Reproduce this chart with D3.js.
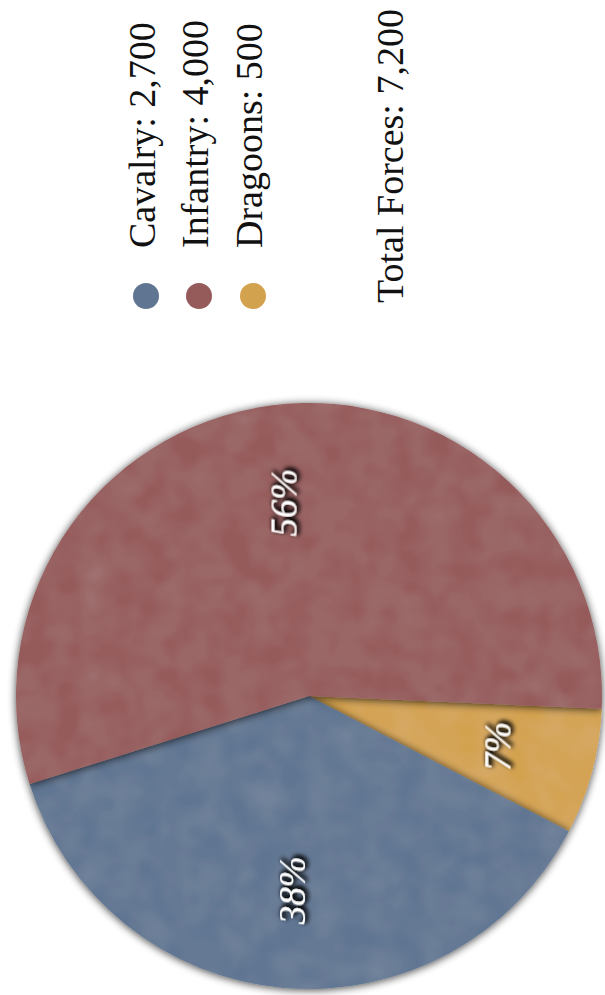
<!DOCTYPE html>
<html>
<head>
<meta charset="utf-8">
<script src="https://cdn.jsdelivr.net/npm/d3@7"></script>
<style>
  html, body { margin: 0; padding: 0; background: #fff; }
  svg { display: block; }
</style>
</head>
<body>
<svg id="chart" width="605" height="995"></svg>
<script>
// Army composition
const categories = ["Cavalry", "Infantry", "Dragoons"];
const values = [2700, 4000, 500];
const colors = ["#5f7591", "#955a5a", "#d3a24f"];
const totalLabel = "Total Forces";
// Order in which the wedges are laid out clockwise (and painted)
const drawOrder = ["Dragoons", "Cavalry", "Infantry"];

const W = 605, H = 995;
const svg = d3.select("#chart");
const fmtNum = d3.format(",");
const fmtPct = d3.format(".0%");
const total = d3.sum(values);
const serif = "'Liberation Serif', 'DejaVu Serif', serif";

const data = categories.map((c, i) => ({ name: c, value: values[i], color: colors[i] }));
const byName = new Map(data.map(d => [d.name, d]));

const defs = svg.append("defs");

// soft shadow for the wedges, plus a faint mottled grain
const shadow = defs.append("filter").attr("id", "wedgeShadow")
  .attr("x", "-20%").attr("y", "-20%").attr("width", "140%").attr("height", "140%");
shadow.append("feTurbulence").attr("type", "fractalNoise").attr("baseFrequency", 0.035)
  .attr("numOctaves", 2).attr("seed", 3).attr("result", "noise");
shadow.append("feColorMatrix").attr("in", "noise").attr("type", "matrix")
  .attr("values", "0 0 0 0 1  0 0 0 0 1  0 0 0 0 1  0.05 0.05 0.05 0 -0.05").attr("result", "grain");
shadow.append("feComposite").attr("in", "grain").attr("in2", "SourceGraphic").attr("operator", "in").attr("result", "grainIn");
shadow.append("feGaussianBlur").attr("in", "SourceAlpha").attr("stdDeviation", 4).attr("result", "b");
shadow.append("feOffset").attr("in", "b").attr("dx", 0).attr("dy", 1).attr("result", "o");
shadow.append("feComponentTransfer").attr("in", "o").attr("result", "s")
  .append("feFuncA").attr("type", "linear").attr("slope", 0.75);
const sm = shadow.append("feMerge");
sm.append("feMergeNode").attr("in", "s");
sm.append("feMergeNode").attr("in", "SourceGraphic");
sm.append("feMergeNode").attr("in", "grainIn");

// dark glow behind the percentage labels
const tshadow = defs.append("filter").attr("id", "textShadow")
  .attr("x", "-50%").attr("y", "-50%").attr("width", "200%").attr("height", "200%");
tshadow.append("feGaussianBlur").attr("in", "SourceAlpha").attr("stdDeviation", 2.5).attr("result", "b");
tshadow.append("feOffset").attr("in", "b").attr("dx", 2).attr("dy", 1.5).attr("result", "o");
tshadow.append("feComponentTransfer").attr("in", "o").attr("result", "s")
  .append("feFuncA").attr("type", "linear").attr("slope", 1.3);
const tm = tshadow.append("feMerge");
tm.append("feMergeNode").attr("in", "s");
tm.append("feMergeNode").attr("in", "s");
tm.append("feMergeNode").attr("in", "SourceGraphic");

// pie geometry
const cx = 309, cy = 696, R = 293, labelR = 195;
const startDeg = 92.5;
const pie = d3.pie()
  .sort(null)
  .value(d => d.value)
  .startAngle(startDeg * Math.PI / 180)
  .endAngle((startDeg + 360) * Math.PI / 180);
const arcs = pie(drawOrder.map(n => byName.get(n)));
const arc = d3.arc().innerRadius(0).outerRadius(R);
const labelArc = d3.arc().innerRadius(labelR).outerRadius(labelR);

const g = svg.append("g").attr("transform", `translate(${cx},${cy})`);
g.selectAll("path.wedge")
  .data(arcs)
  .join("path")
  .attr("class", "wedge")
  .attr("d", arc)
  .attr("fill", d => d.data.color)
  .attr("filter", "url(#wedgeShadow)");

g.selectAll("text.pct")
  .data(arcs)
  .join("text")
  .attr("class", "pct")
  .attr("transform", d => {
    const [x, y] = labelArc.centroid(d);
    return `translate(${x},${y}) rotate(-90)`;
  })
  .attr("text-anchor", "middle")
  .attr("dy", "0.35em")
  .attr("fill", "#fff")
  .attr("font-family", serif)
  .attr("font-style", "italic")
  .attr("font-size", 37)
  .attr("filter", "url(#textShadow)")
  .text(d => fmtPct(d.data.value / total));

// legend (reads bottom to top)
const legendX = [155, 208, 262];
const legendTextY = 248, legendDotY = 296, dotR = 13;
const legend = svg.append("g");
data.forEach((d, i) => {
  legend.append("circle")
    .attr("cx", legendX[i] - 9)
    .attr("cy", legendDotY)
    .attr("r", dotR)
    .attr("fill", d.color);
  legend.append("text")
    .attr("transform", `translate(${legendX[i]},${legendTextY}) rotate(-90)`)
    .attr("font-family", serif)
    .attr("font-size", 38)
    .attr("fill", "#111")
    .text(`${d.name}: ${fmtNum(d.value)}`);
});
legend.append("text")
  .attr("transform", `translate(403,303) rotate(-90)`)
  .attr("font-family", serif)
  .attr("font-size", 38)
  .attr("fill", "#111")
  .text(`${totalLabel}: ${fmtNum(total)}`);
</script>
</body>
</html>
